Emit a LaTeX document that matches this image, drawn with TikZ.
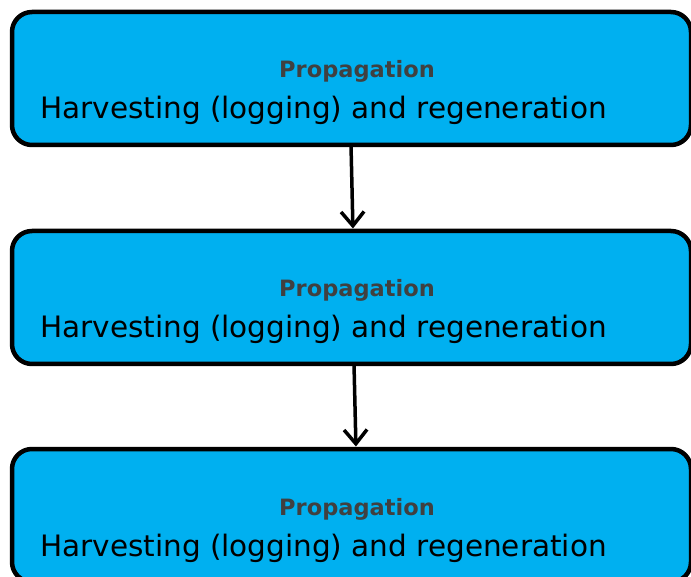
\documentclass[tikz,border=0pt]{standalone}
\usepackage{fontspec}
\setmainfont{DejaVu Sans}
\usepackage{xcolor}
\definecolor{boxblue}{HTML}{00B0F0}
\definecolor{labelgray}{HTML}{404040}
\usetikzlibrary{positioning,arrows.meta}
\tikzset{
	stagebox/.style={draw=black, line width=4.5pt, fill=boxblue, rounded corners=20pt, minimum width=679pt, minimum height=133pt, outer sep=0pt, inner sep=0pt},
	stagetitle/.style={font=\fontsize{22.5}{27}\selectfont\bfseries, text=labelgray, inner sep=0pt, anchor=base},
	stagetext/.style={font=\fontsize{29.5}{35}\selectfont, inner sep=0pt, anchor=base west},
	flow/.style={line width=3.5pt, -{Straight Barb[length=14pt,width=23pt]}, shorten >=2.5pt}
}

\begin{document}
\begin{tikzpicture}[x=1pt,y=-1pt]
	\clip (0,0) rectangle (691,577);
	
	% draw boxes
	\node[stagebox] (box1) at (351.5,78.5) {};
	\node[stagebox] (box2) at (351.5,297.5) {};
	\node[stagebox] (box3) at (351.5,515.5) {};
	
	% draw texts
	\node[stagetitle] (title1) at (357,78) {Propagation};
	\node[stagetext] (text1) at (40,119) {Harvesting (logging) and regeneration};
	\node[stagetitle] (title2) at (357,297) {Propagation};
	\node[stagetext] (text2) at (40,338) {Harvesting (logging) and regeneration};
	\node[stagetitle] (title3) at (357,515) {Propagation};
	\node[stagetext] (text3) at (40,556) {Harvesting (logging) and regeneration};
	
	%%%arrows
	\draw[flow] ([xshift=-0.5pt]box1.south) -- ([xshift=1.5pt]box2.north);
	\draw[flow] ([xshift=2.5pt]box2.south) -- ([xshift=4.5pt]box3.north);
\end{tikzpicture}
\end{document}
